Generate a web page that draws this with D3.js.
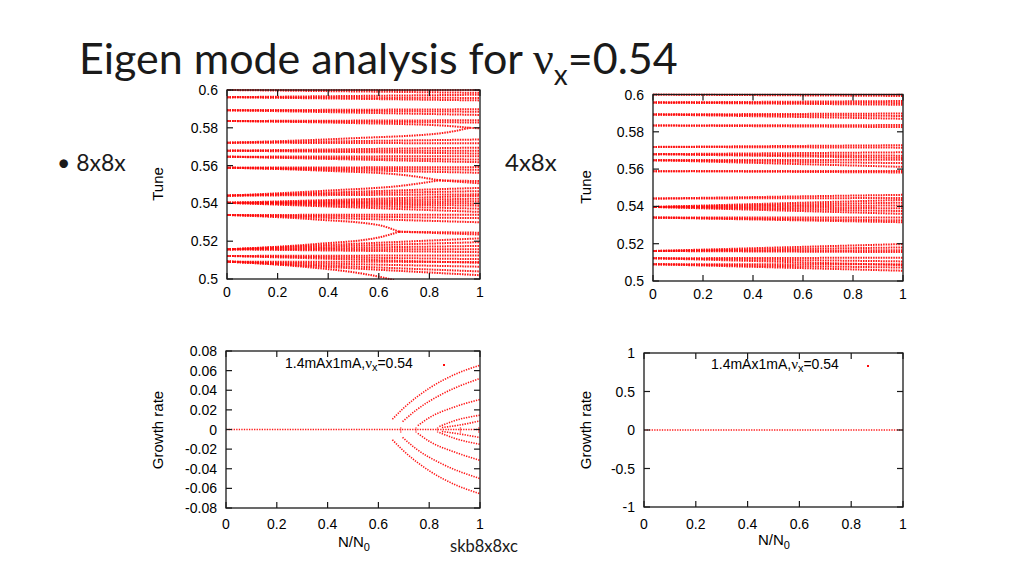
<!DOCTYPE html>
<html><head><meta charset="utf-8">
<script src="https://cdn.jsdelivr.net/npm/d3@7"></script>
<style>body{margin:0;background:#fff}svg{display:block}</style>
</head><body><svg id="c" width="1024" height="576"></svg>
<script>
// ---------------- DATA ----------------
const xTicks = [0, 0.2, 0.4, 0.6, 0.8, 1];
const xTickLabels = ["0", "0.2", "0.4", "0.6", "0.8", "1"];
const tuneTicks = [0.5, 0.52, 0.54, 0.56, 0.58, 0.6];
const tuneTickLabels = ["0.5", "0.52", "0.54", "0.56", "0.58", "0.6"];
const growthTicks8x8x = [-0.08, -0.06, -0.04, -0.02, 0, 0.02, 0.04, 0.06, 0.08];
const growthTickLabels8x8x = ["-0.08", "-0.06", "-0.04", "-0.02", "0", "0.02", "0.04", "0.06", "0.08"];
const growthTicks4x8x = [-1, -0.5, 0, 0.5, 1];
const growthTickLabels4x8x = ["-1", "-0.5", "0", "0.5", "1"];

// Tune of each eigen mode vs N/N0 for the 8x8x case: [N/N0, tune]
const tuneModes8x8x = [
  [[0,0.600],[1,0.600]], [[0,0.600],[1,0.5985]],
  [[0,0.5962],[1,0.5975]], [[0,0.5962],[1,0.5958]], [[0,0.5962],[1,0.5945]],
  [[0,0.5893],[1,0.5898]], [[0,0.5893],[1,0.5885]], [[0,0.5893],[1,0.5868]],
  [[0,0.5836],[1,0.5840]], [[0,0.5836],[1,0.5828]],
  [[0,0.5836],[0.5,0.5825],[0.85,0.5812],[0.96,0.5800]],
  [[0.96,0.5800],[1,0.5797]],
  [[0,0.5721],[1,0.5718]], [[0,0.5721],[1,0.5738]],
  [[0,0.5721],[0.5,0.5745],[0.85,0.5772],[0.96,0.5800]],
  [[0,0.5679],[1,0.5695]], [[0,0.5679],[1,0.5678]], [[0,0.5679],[1,0.5664]],
  [[0,0.5647],[1,0.5650]], [[0,0.5647],[1,0.5632]], [[0,0.5647],[1,0.5618]],
  [[0,0.5589],[1,0.5592]], [[0,0.5589],[1,0.5578]], [[0,0.5589],[1,0.5562]],
  [[0,0.5589],[0.4,0.5572],[0.7,0.5550],[0.84,0.5522]],
  [[0,0.5441],[1,0.5448]], [[0,0.5441],[1,0.5465]], [[0,0.5441],[1,0.5482]],
  [[0,0.5441],[0.4,0.5468],[0.7,0.5495],[0.84,0.5522]],
  [[0.84,0.5522],[1,0.5518]], [[0.84,0.5522],[1,0.5506]],
  [[0,0.5403],[1,0.5440]], [[0,0.5403],[1,0.5425]], [[0,0.5403],[1,0.5412]],
  [[0,0.5403],[1,0.5400]], [[0,0.5403],[1,0.5388]], [[0,0.5403],[1,0.5372]],
  [[0,0.5403],[1,0.5355]],
  [[0,0.5339],[1,0.5340]], [[0,0.5339],[1,0.5322]], [[0,0.5339],[1,0.5300]],
  [[0,0.5339],[0.35,0.5315],[0.6,0.5285],[0.68,0.5250]],
  [[0.68,0.5250],[1,0.5245]], [[0.68,0.5250],[1,0.5235]],
  [[0,0.5157],[0.35,0.5185],[0.6,0.5220],[0.68,0.5250]],
  [[0,0.5157],[1,0.5215]], [[0,0.5157],[1,0.5195]], [[0,0.5157],[1,0.5175]],
  [[0,0.5157],[1,0.5158]], [[0,0.5157],[1,0.5142]],
  [[0,0.5122],[1,0.5125]], [[0,0.5122],[1,0.5105]], [[0,0.5122],[1,0.5085]],
  [[0,0.5092],[1,0.5090]], [[0,0.5092],[1,0.5065]], [[0,0.5092],[1,0.5040]],
  [[0,0.5092],[1,0.5020]],
  [[0,0.5092],[0.3,0.5065],[0.55,0.5025],[0.66,0.4995]]
];

// Tune of each eigen mode vs N/N0 for the 4x8x case
const tuneModes4x8x = [
  [[0,0.600],[1,0.600]], [[0,0.600],[1,0.5992]],
  [[0,0.5957],[1,0.5965]], [[0,0.5957],[1,0.5955]], [[0,0.5957],[1,0.5945]],
  [[0,0.5893],[1,0.5898]], [[0,0.5893],[1,0.5885]], [[0,0.5893],[1,0.5870]],
  [[0,0.5834],[1,0.5836]], [[0,0.5834],[1,0.5825]],
  [[0,0.5719],[1,0.5728]], [[0,0.5719],[1,0.5715]],
  [[0,0.5680],[1,0.5690]], [[0,0.5680],[1,0.5672]], [[0,0.5680],[1,0.5660]],
  [[0,0.5648],[1,0.5650]], [[0,0.5648],[1,0.5632]], [[0,0.5648],[1,0.5612]],
  [[0,0.5589],[1,0.5590]], [[0,0.5589],[1,0.5582]],
  [[0,0.5442],[1,0.5462]], [[0,0.5442],[1,0.5445]],
  [[0,0.5397],[1,0.5435]], [[0,0.5397],[1,0.5420]], [[0,0.5397],[1,0.5405]],
  [[0,0.5397],[1,0.5390]], [[0,0.5397],[1,0.5375]], [[0,0.5397],[1,0.5360]],
  [[0,0.5340],[1,0.5340]], [[0,0.5340],[1,0.5325]], [[0,0.5340],[1,0.5315]],
  [[0,0.5161],[1,0.5198]], [[0,0.5161],[1,0.5180]], [[0,0.5161],[1,0.5165]],
  [[0,0.5161],[1,0.5155]],
  [[0,0.5122],[1,0.5125]], [[0,0.5122],[1,0.5105]], [[0,0.5122],[1,0.5085]],
  [[0,0.5090],[1,0.5090]], [[0,0.5090],[1,0.5072]], [[0,0.5090],[1,0.5055]]
];

// Growth rate of each eigen mode vs N/N0 for the 8x8x case
const growthModes8x8x = [
  [[0,0],[1,0]],
  [[0.655,0.0105],[0.7,0.022],[0.8,0.042],[0.9,0.056],[1,0.0655]],
  [[0.655,-0.0105],[0.7,-0.022],[0.8,-0.042],[0.9,-0.056],[1,-0.0654]],
  [[0.695,0.008],[0.75,0.020],[0.85,0.036],[1,0.052]],
  [[0.695,-0.008],[0.75,-0.020],[0.85,-0.035],[1,-0.050]],
  [[0.755,0.004],[0.8,0.012],[0.9,0.023],[1,0.0306]],
  [[0.755,-0.004],[0.8,-0.012],[0.9,-0.023],[1,-0.0314]],
  [[0.84,0.003],[0.9,0.009],[1,0.0146]],
  [[0.84,-0.003],[0.9,-0.009],[1,-0.0150]],
  [[0.85,0.002],[0.93,0.005],[1,0.0088]],
  [[0.85,-0.002],[0.93,-0.005],[1,-0.0082]]
];
const onsets8x8x = [0.688, 0.748, 0.833, 0.923, 0.995];

// Growth rate for the 4x8x case (all modes stable)
const growthModes4x8x = [
  [[0,0],[1,0]]
];

const xTitle = "N/N";
const legendPrefix = "1.4mAx1mA,";
const legendSuffix = "=0.54";

// ---------------- DRAW ----------------
const svg = d3.select("#c");
const RED = "#ff0a0a";
const AX = "Liberation Sans, Arial, sans-serif";

const panels = [
  {box:{l:227,r:480,t:90,b:279}, dom:[0.5,0.6], ticks:tuneTicks, labels:tuneTickLabels,
   modes:tuneModes8x8x, yTitle:"Tune", yTitleX:158, yTitleY:184, xLabDy:18, tune:true},
  {box:{l:653,r:903,t:94.5,b:281}, dom:[0.5,0.6], ticks:tuneTicks, labels:tuneTickLabels,
   modes:tuneModes4x8x, yTitle:"Tune", yTitleX:586, yTitleY:187, xLabDy:17.5, tune:true},
  {box:{l:226,r:480,t:351,b:508}, dom:[-0.08,0.08], ticks:growthTicks8x8x, labels:growthTickLabels8x8x,
   modes:growthModes8x8x, onsets:onsets8x8x, yTitle:"Growth rate", yTitleX:158, yTitleY:430, xLabDy:20.5,
   xTitleX:354, xTitleY:547, legX:285, legY:368, legPt:[444,365]},
  {box:{l:644,r:903,t:353,b:507}, dom:[-1,1], ticks:growthTicks4x8x, labels:growthTickLabels4x8x,
   modes:growthModes4x8x, yTitle:"Growth rate", yTitleX:586, yTitleY:430, xLabDy:21.5,
   xTitleX:774, xTitleY:545, legX:711, legY:369, legPt:[868,366]}
];

panels.forEach((p, i) => {
  const b = p.box;
  const x = d3.scaleLinear().domain([0,1]).range([b.l, b.r]);
  const y = d3.scaleLinear().domain(p.dom).range([b.b, b.t]);
  const g = svg.append("g");
  const clipId = "clip" + i;
  g.append("clipPath").attr("id", clipId).append("rect")
    .attr("x", b.l).attr("y", b.t - 1).attr("width", b.r - b.l).attr("height", b.b - b.t + 2);

  const line = d3.line().x(d => x(d[0])).y(d => y(d[1])).curve(d3.curveMonotoneX);
  const lg = g.append("g").attr("clip-path", `url(#${clipId})`);
  lg.selectAll("path.mode").data(p.modes).join("path")
    .attr("class","mode")
    .attr("d", line)
    .attr("fill","none")
    .attr("stroke", RED)
    .attr("stroke-width", p.tune ? 2.0 : 1.6)
    .attr("stroke-dasharray", p.tune ? "1.5,1.03" : "1.3,1.25")
    .attr("opacity", 0.95);
  if (p.onsets) {
    lg.selectAll("line.on").data(p.onsets).join("line")
      .attr("x1", d => x(d)).attr("x2", d => x(d))
      .attr("y1", y(-0.003)).attr("y2", y(0.003))
      .attr("stroke", RED).attr("stroke-width", 1.3).attr("stroke-dasharray","1,1");
  }

  // frame
  g.append("rect").attr("x", b.l).attr("y", b.t).attr("width", b.r - b.l).attr("height", b.b - b.t)
    .attr("fill","none").attr("stroke","#1a1a1a").attr("stroke-width",1.3);

  // ticks (inward, mirrored)
  const TL = 6;
  const tk = g.append("g").attr("stroke","#1a1a1a").attr("stroke-width",1.2);
  xTicks.forEach(v => {
    tk.append("line").attr("x1", x(v)).attr("x2", x(v)).attr("y1", b.b).attr("y2", b.b - TL);
    tk.append("line").attr("x1", x(v)).attr("x2", x(v)).attr("y1", b.t).attr("y2", b.t + TL);
  });
  p.ticks.forEach(v => {
    tk.append("line").attr("x1", b.l).attr("x2", b.l + TL).attr("y1", y(v)).attr("y2", y(v));
    tk.append("line").attr("x1", b.r).attr("x2", b.r - TL).attr("y1", y(v)).attr("y2", y(v));
  });

  // tick labels
  g.selectAll("text.xl").data(xTicks).join("text")
    .attr("x", d => x(d)).attr("y", b.b + p.xLabDy)
    .attr("text-anchor","middle").attr("font-family", AX).attr("font-size", 14)
    .text((d, k) => xTickLabels[k]);
  g.selectAll("text.yl").data(p.ticks).join("text")
    .attr("x", b.l - 9).attr("y", d => y(d)).attr("dy","0.36em")
    .attr("text-anchor","end").attr("font-family", AX).attr("font-size", 14)
    .text((d, k) => p.labels[k]);

  // y title
  g.append("text").attr("transform", `translate(${p.yTitleX + 5},${p.yTitleY}) rotate(-90)`)
    .attr("text-anchor","middle").attr("font-family", AX).attr("font-size", 15)
    .text(p.yTitle);

  if (p.xTitleX) {
    const t = g.append("text").attr("x", p.xTitleX).attr("y", p.xTitleY)
      .attr("text-anchor","middle").attr("font-family", AX).attr("font-size", 15);
    t.append("tspan").text(xTitle);
    t.append("tspan").attr("font-size", 11).attr("dy", 4).text("0");
  }
  if (p.legX) {
    const t = g.append("text").attr("x", p.legX).attr("y", p.legY)
      .attr("font-family", AX).attr("font-size", 14);
    t.append("tspan").text(legendPrefix);
    t.append("tspan").attr("font-family","Liberation Serif, serif").attr("font-size", 15).text("ν");
    t.append("tspan").attr("font-size", 11).attr("dy", 3).text("x");
    t.append("tspan").attr("dy", -3).text(legendSuffix);
    g.append("rect").attr("x", p.legPt[0] - 1).attr("y", p.legPt[1] - 1)
      .attr("width", 2).attr("height", 2).attr("fill", RED);
  }
});

// Slide texts
const SL = "Lato, 'Open Sans', sans-serif";
const title = svg.append("text").attr("x", 79).attr("y", 74)
  .attr("font-family", SL).attr("font-size", 43).attr("fill","#1a1a1a");
title.append("tspan").text("Eigen mode analysis for ");
title.append("tspan").attr("font-family","Liberation Serif, serif").attr("font-size", 46).text("ν");
title.append("tspan").attr("font-size", 28).attr("dy", 11).text("x");
title.append("tspan").attr("dy", -11).text("=0.54");

svg.append("text").attr("x", 57).attr("y", 171).attr("font-family", SL).attr("font-size", 23)
  .attr("fill","#1a1a1a").text("• 8x8x");
svg.append("text").attr("x", 505).attr("y", 171).attr("font-family", SL).attr("font-size", 24)
  .attr("fill","#1a1a1a").text("4x8x");
svg.append("text").attr("x", 450).attr("y", 552).attr("font-family", SL).attr("font-size", 16.5)
  .attr("fill","#1a1a1a").text("skb8x8xc");
</script></body></html>
